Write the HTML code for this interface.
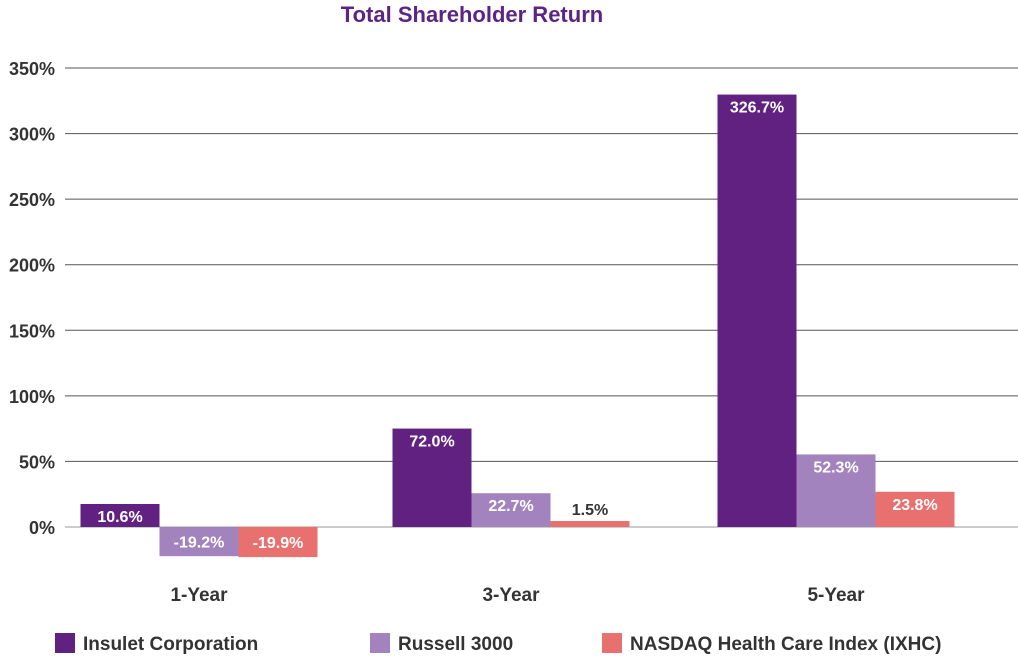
<!DOCTYPE html>
<html><head><meta charset="utf-8"><style>
body{margin:0;background:#fff;font-family:"Liberation Sans",sans-serif;}
svg text{font-family:"Liberation Sans",sans-serif;font-weight:bold;}
</style></head><body>
<svg id="chart" width="1018" height="658" viewBox="0 0 1018 658" xmlns="http://www.w3.org/2000/svg">
<text x="472" y="22" text-anchor="middle" font-size="22" fill="#5c2483">Total Shareholder Return</text>
<g id="grid"></g><g id="bars"></g><g id="labels"></g>
<g id="legend"></g>
</svg>
<script>
const categories = ["1-Year","3-Year","5-Year"];
const seriesNames = ["Insulet Corporation","Russell 3000","NASDAQ Health Care Index (IXHC)"];
const insulet = [10.6, 72.0, 326.7];
const russell = [-19.2, 22.7, 52.3];
const nasdaq = [-19.9, 1.5, 23.8];
const tickValues = [0,50,100,150,200,250,300,350];
const colors = ["#612181","#a383be","#e8706f"];
const series = [insulet, russell, nasdaq];
const NS="http://www.w3.org/2000/svg";
function y(v){return 527 - v*(459/350);}
function cx(i){return 199 + 312*i + (i===2?13:0);}
const barW=79;
function mk(tag,attrs,parent){const e=document.createElementNS(NS,tag);for(const k in attrs)e.setAttribute(k,attrs[k]);parent.appendChild(e);return e;}
const grid=document.getElementById('grid');
tickValues.forEach(t=>{
  const l=mk('line',{x1:65,x2:1018,y1:y(t),y2:y(t),stroke:t===0?'#999':'#555','stroke-width':1},grid);
  
  
  const tx=mk('text',{x:55,y:y(t)+7,'text-anchor':'end','font-size':18,fill:'#333'},grid);
  tx.textContent=t+'%';
  
  
});
const bars=document.getElementById('bars'), labels=document.getElementById('labels');
categories.forEach((c,i)=>{
  series.forEach((s,j)=>{
    const v=s[i];
    const x0=cx(i)-1.5*barW+j*barW;
    let h=Math.abs(y(v)-y(0))+4;
    if(Math.abs(v)>5) h=Math.max(h,23);
    const top=v>=0?y(0)-h:y(0);
    const r=mk('rect',{x:x0,y:top,width:barW,height:h,fill:colors[j]},bars);
    
    
    const inside=h>20;
    const ly=inside?(v>=0?top+18:top+h/2+6):top-6;
    const t=mk('text',{x:x0+barW/2,y:ly,'text-anchor':'middle','font-size':16,fill:inside?'#fff':'#333'},labels);
    t.textContent=v.toFixed(1)+'%';
    
    
  });
  const ct=mk('text',{x:cx(i),y:601,'text-anchor':'middle','font-size':19,fill:'#333'},labels);
  ct.textContent=c;
  
  
});
const lg=document.getElementById('legend');
const lx=[55,370,602];
seriesNames.forEach((n,j)=>{
  const r=mk('rect',{x:lx[j],y:633,width:20,height:20,fill:colors[j]},lg);
  
  
  const t=mk('text',{x:lx[j]+28,y:650,'font-size':19,fill:'#333'},lg);
  t.textContent=n;
  
  
});
</script>
</body></html>
